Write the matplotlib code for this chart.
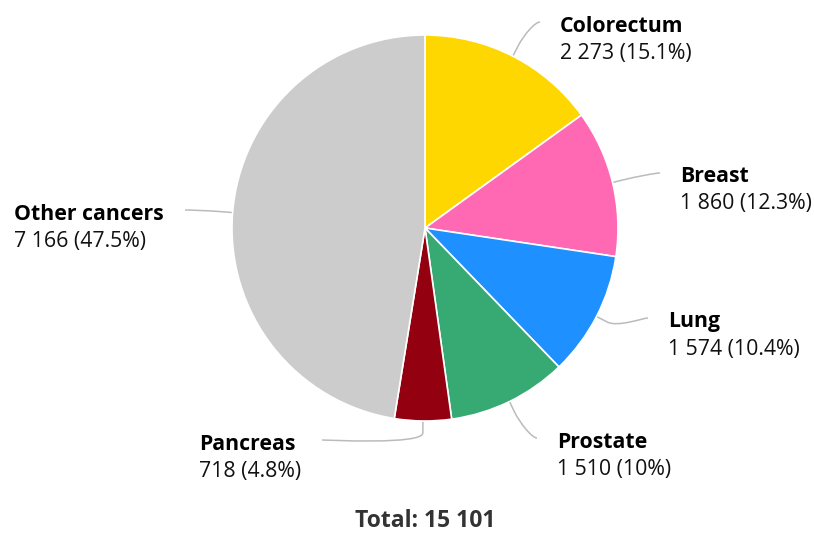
import numpy as np
import matplotlib
matplotlib.use("Agg")
import matplotlib.pyplot as plt
from matplotlib.path import Path
from matplotlib.patches import PathPatch

# ---- data ----
categories = ["Colorectum", "Breast", "Lung", "Prostate", "Pancreas", "Other cancers"]
values = [2273, 1860, 1574, 1510, 718, 7166]
colors = ["#FFD700", "#FF69B4", "#1E90FF", "#37A972", "#930010", "#CCCCCC"]

# ---- layout (reference pixel coords, y downward) ----
W, H = 814, 533
CX, CY, R = 425, 228, 193
# connector end points (label anchor) and side of the text
label_anchor = [(540, 22), (660, 173), (648, 318), (537, 438), (322, 440), (185, 210)]
label_side = ["right", "right", "right", "right", "left", "left"]

plt.rcParams['font.family'] = ['Open Sans', 'DejaVu Sans']

fig = plt.figure(figsize=(W / 100, H / 100), dpi=100)
ax = fig.add_axes([0, 0, 1, 1])

wedges, _ = ax.pie(values, colors=colors, startangle=90, counterclock=False,
                   center=(CX, H - CY), radius=R,
                   wedgeprops=dict(edgecolor="white", linewidth=1.2))
ax.set_xlim(0, W)
ax.set_ylim(0, H)
ax.set_aspect("equal")
ax.set_axis_off()

total = sum(values)

def fmt_num(v):
    return f"{v:,}".replace(",", " ")

def fmt_pct(p):
    s = f"{p:.1f}"
    if s.endswith(".0"):
        s = s[:-2]
    return s + "%"

renderer = fig.canvas.get_renderer()
fs = 15.3
off = 12
for w, name, v, (lx, ly), side in zip(wedges, categories, values, label_anchor, label_side):
    mid = np.deg2rad((w.theta1 + w.theta2) / 2)
    ux, uy = np.cos(mid), np.sin(mid)
    tx, ty = CX + R * ux, (H - CY) + R * uy
    bx, by = CX + (R + off) * ux, (H - CY) + (R + off) * uy
    px, py = lx, H - ly
    c1x = px - 5 if side == "right" else px + 5
    verts = [(px, py), (c1x, py), (2 * bx - tx, 2 * by - ty), (bx, by), (tx, ty)]
    codes = [Path.MOVETO, Path.CURVE4, Path.CURVE4, Path.CURVE4, Path.LINETO]
    ax.add_patch(PathPatch(Path(verts, codes), fill=False, edgecolor="#BBBBBB",
                           linewidth=1.1, zorder=0))
    y1 = py - 4
    t1 = ax.text(0, y1, name, ha="left", va="center", fontsize=fs, fontweight="bold",
                 color="#000000")
    t2 = ax.text(0, y1 - 27, f"{fmt_num(v)} ({fmt_pct(100 * v / total)})", ha="left",
                 va="center", fontsize=fs, color="#111111")
    if side == "right":
        x_text = px + 20
    else:
        wmax = max(t1.get_window_extent(renderer).width,
                   t2.get_window_extent(renderer).width)
        x_text = px - 21 - wmax
    t1.set_x(x_text)
    t2.set_x(x_text)

ax.text(CX, H - 521, f"Total: {fmt_num(total)}", ha="center", va="center",
        fontsize=16.5, fontweight="bold", color="#333333")

fig.savefig("out.png", dpi=100)
